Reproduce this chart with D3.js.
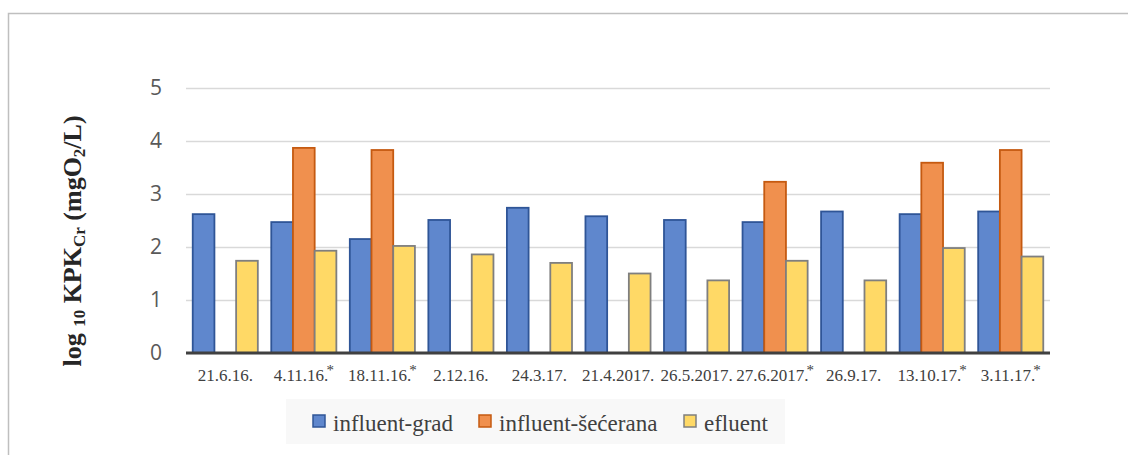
<!DOCTYPE html>
<html><head><meta charset="utf-8">
<script src="https://cdn.jsdelivr.net/npm/d3@7"></script>
<style>body{margin:0;background:#fff;}svg{display:block;}</style>
</head><body>
<svg id="c" width="1128" height="455"></svg>
<script>
const categories = ["21.6.16.","4.11.16.","18.11.16.","2.12.16.","24.3.17.","21.4.2017.","26.5.2017.","27.6.2017.","26.9.17.","13.10.17.","3.11.17."];
const starred = [false,true,true,false,false,false,false,true,false,true,true];
const seriesNames = ["influent-grad","influent-šećerana","efluent"];
const influentGrad = [2.62,2.47,2.15,2.51,2.74,2.58,2.51,2.47,2.67,2.62,2.67];
const influentSecerana = [null,3.87,3.83,null,null,null,null,3.23,null,3.59,3.83];
const efluent = [1.74,1.93,2.02,1.86,1.70,1.50,1.37,1.74,1.37,1.98,1.82];
const yTicks = [0,1,2,3,4,5];
const fills = ["#5f87cd","#f0904e","#ffd966"];
const strokes = ["#2f5597","#c55a11","#7f7f7f"];

const svg = d3.select("#c");
const L = 186, R = 1050, T = 88, B = 353;
const SERIF = "'Liberation Serif', 'Times New Roman', serif";

svg.append("rect").attr("x",8.5).attr("y",13.5).attr("width",1200).attr("height",500)
  .attr("fill","none").attr("stroke","#bfbfbf").attr("stroke-width",1.5);

const y = d3.scaleLinear().domain([0,5]).range([B,T]);
const x0 = d3.scaleBand().domain(categories).range([L,R]).padding(0);
const x1 = d3.scaleBand().domain(seriesNames).range([0,x0.bandwidth()]).paddingInner(0).paddingOuter(0.31);

const yAxis = d3.axisLeft(y).tickValues(yTicks).tickSize(-(R-L)).tickFormat(d3.format("d"));
const ga = svg.append("g").attr("transform",`translate(${L},0)`).call(yAxis);
ga.select(".domain").remove();
ga.selectAll(".tick line").attr("stroke","#d9d9d9").attr("stroke-width",1.5);
ga.selectAll(".tick text").attr("x",-24).attr("fill","#595959")
  .style("font-family","'Open Sans', sans-serif").style("font-size","21px");

const seriesData = [influentGrad, influentSecerana, efluent];
const g = svg.append("g");
seriesData.forEach((vals,si)=>{
  g.selectAll(null).data(categories.map((c,i)=>({c,v:vals[i]})).filter(d=>d.v!=null))
   .enter().append("rect")
   .attr("x",d=>x0(d.c)+x1(seriesNames[si]))
   .attr("y",d=>y(d.v))
   .attr("width",x1.bandwidth())
   .attr("height",d=>y(0)-y(d.v))
   .attr("fill",fills[si]).attr("stroke",strokes[si]).attr("stroke-width",1.8);
});

svg.append("line").attr("x1",L).attr("x2",R).attr("y1",y(0)).attr("y2",y(0))
  .attr("stroke","#404040").attr("stroke-width",3);

const xl = svg.append("g");
categories.forEach((c,i)=>{
  const t = xl.append("text").attr("x",x0(c)+x0.bandwidth()/2).attr("y",381)
    .attr("text-anchor","middle").attr("fill","#404040")
    .style("font-family",SERIF).style("font-size","17px");
  t.append("tspan").text(c);
  if(starred[i]) t.append("tspan").attr("dy",-6).attr("dx",-2).style("font-size","15px").text("*");
});

const yt = svg.append("text").attr("transform","translate(81,241) rotate(-90)")
  .attr("text-anchor","middle").attr("fill","#262626").style("white-space","pre")
  .style("font-family",SERIF).style("font-size","26px").style("font-weight","bold");
yt.append("tspan").text("log ");
yt.append("tspan").attr("dy",4).style("font-size","17px").text("10");
yt.append("tspan").attr("dy",-4).text(" KPK");
yt.append("tspan").attr("dy",4).style("font-size","17px").text("Cr");
yt.append("tspan").attr("dy",-4).text(" (mgO");
yt.append("tspan").attr("dy",4).style("font-size","17px").text("2");
yt.append("tspan").attr("dy",-4).text("/L)");

const lg = svg.append("g");
lg.append("rect").attr("x",286).attr("y",399).attr("width",499).attr("height",45).attr("fill","#f8f8f8");
const legX = [313,479,684];
seriesNames.forEach((n,i)=>{
  lg.append("rect").attr("x",legX[i]).attr("y",415).attr("width",12).attr("height",12)
    .attr("fill",fills[i]).attr("stroke",strokes[i]).attr("stroke-width",1.5);
  lg.append("text").attr("x",legX[i]+20).attr("y",431).attr("fill","#404040")
    .style("font-family",SERIF).style("font-size","23px").text(n);
});
</script>
</body></html>
